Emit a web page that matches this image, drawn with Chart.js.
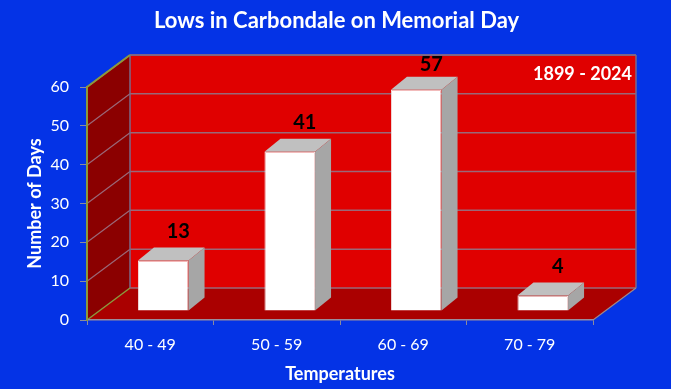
<!DOCTYPE html>
<html>
<head>
<meta charset="utf-8">
<script src="https://cdn.jsdelivr.net/npm/chart.js@4.4.1/dist/chart.umd.min.js"></script>
<style>
  html, body { margin: 0; padding: 0; background: #0433e6; }
  canvas { display: block; }
</style>
</head>
<body>
<canvas id="lowsChart" width="673" height="389"></canvas>
<script>
// Lows in Carbondale on Memorial Day, 1899 - 2024
const categories = ['40 - 49', '50 - 59', '60 - 69', '70 - 79'];
const days = [13, 41, 57, 4];
const yMin = 0;
const yMax = 60;
const yStep = 10;

const FONT = 'Lato, "Open Sans", sans-serif';
const BLUE = '#0433e6';

// depth of the 3D box, and how far back the bars sit inside it
const WALL_DX = 43, WALL_DY = -32;
const BAR_DX = 13, BAR_DY = -9;
const CUBE_DX = 16, CUBE_DY = -13;

function poly(ctx, pts, fill) {
  ctx.beginPath();
  ctx.moveTo(pts[0][0], pts[0][1]);
  for (let i = 1; i < pts.length; i++) ctx.lineTo(pts[i][0], pts[i][1]);
  ctx.closePath();
  ctx.fillStyle = fill;
  ctx.fill();
}

function line(ctx, x1, y1, x2, y2, color, w) {
  ctx.beginPath();
  ctx.moveTo(x1, y1);
  ctx.lineTo(x2, y2);
  ctx.strokeStyle = color;
  ctx.lineWidth = w || 1;
  ctx.stroke();
}

// background, walls, floor and gridlines of the 3D box
const wallsPlugin = {
  id: 'walls3d',
  beforeDraw(chart) {
    const { ctx, chartArea } = chart;
    const y = chart.scales.y;
    const L = chartArea.left, R = chartArea.right;
    const B = y.getPixelForValue(yMin), T = y.getPixelForValue(yMax);

    ctx.save();
    ctx.fillStyle = BLUE;
    ctx.fillRect(0, 0, chart.width, chart.height);
    ctx.fillStyle = '#ffffff';
    ctx.fillRect(chart.width - 2, 0, 2, chart.height);

    // back wall
    poly(ctx, [[L + WALL_DX, T + WALL_DY], [R + WALL_DX, T + WALL_DY], [R + WALL_DX, B + WALL_DY], [L + WALL_DX, B + WALL_DY]], '#e00000');
    // left wall
    poly(ctx, [[L, T], [L + WALL_DX, T + WALL_DY], [L + WALL_DX, B + WALL_DY], [L, B]], '#8b0000');
    // floor
    poly(ctx, [[L, B], [L + WALL_DX, B + WALL_DY], [R + WALL_DX, B + WALL_DY], [R, B]], '#aa0000');

    // gridlines on the back and left walls
    y.ticks.forEach(t => {
      const p = y.getPixelForValue(t.value);
      line(ctx, L + WALL_DX, p + WALL_DY, R + WALL_DX, p + WALL_DY, '#9a6878', 1.5);
      if (t.value !== yMin) line(ctx, L, p, L + WALL_DX, p + WALL_DY, '#9a6878', 1.2);
    });

    // box edges
    line(ctx, L + WALL_DX, T + WALL_DY, R + WALL_DX, T + WALL_DY, '#7a6a8a', 1.5);
    line(ctx, R + WALL_DX, T + WALL_DY, R + WALL_DX, B + WALL_DY, '#7a6a8a', 1.5);
    line(ctx, L + WALL_DX, T + WALL_DY, L + WALL_DX, B + WALL_DY, '#7a6a8a', 1.5);
    line(ctx, L, T, L + WALL_DX, T + WALL_DY, '#8c9a3c', 2);
    line(ctx, L, B, L + WALL_DX, B + WALL_DY, '#8c9a3c', 1.5);
    line(ctx, R, B, R + WALL_DX, B + WALL_DY, '#a08888', 1.2);

    // period note
    ctx.font = 'bold 18px ' + FONT;
    ctx.fillStyle = '#ffffff';
    ctx.textAlign = 'right';
    ctx.textBaseline = 'middle';
    ctx.fillText('1899 - 2024', R + 39, 74);
    ctx.restore();
  },
};

// pushes the bars back into the box and adds top / side faces
const cubesPlugin = {
  id: 'cubes3d',
  beforeDatasetsDraw(chart) {
    chart.ctx.save();
    chart.ctx.translate(BAR_DX, BAR_DY);
  },
  afterDatasetsDraw(chart) {
    const ctx = chart.ctx;
    const bars = chart.getDatasetMeta(0).data;
    bars.forEach(bar => {
      const { x, y, base, width } = bar.getProps(['x', 'y', 'base', 'width'], true);
      const l = x - width / 2, r = x + width / 2;
      poly(ctx, [[l, y], [l + CUBE_DX, y + CUBE_DY], [r + CUBE_DX, y + CUBE_DY], [r, y]], '#c0c0c0');
      poly(ctx, [[r, y], [r + CUBE_DX, y + CUBE_DY], [r + CUBE_DX, base + CUBE_DY], [r, base]], '#a6a6a6');
    });
    ctx.restore();

    // value labels above each cube
    ctx.save();
    ctx.font = 'bold 20px ' + FONT;
    ctx.fillStyle = '#000000';
    ctx.textAlign = 'center';
    ctx.textBaseline = 'middle';
    const minY = chart.chartArea.top - 22;
    bars.forEach((bar, i) => {
      const { x, y } = bar.getProps(['x', 'y'], true);
      ctx.fillText(String(days[i]), x + BAR_DX + 15, Math.max(y + BAR_DY + CUBE_DY - 16, minY));
    });
    ctx.restore();
  },
};

new Chart(document.getElementById('lowsChart'), {
  type: 'bar',
  data: {
    labels: categories,
    datasets: [{
      data: days,
      backgroundColor: '#ffffff',
      borderColor: '#f2dcdc',
      borderWidth: 1,
      barPercentage: 0.4,
      categoryPercentage: 1,
      clip: false,
    }],
  },
  options: {
    responsive: false,
    devicePixelRatio: 1,
    animation: false,
    layout: { padding: 0 },
    plugins: {
      legend: { display: false },
      tooltip: { enabled: false },
      title: {
        display: true,
        text: 'Lows in Carbondale on Memorial Day',
        color: '#ffffff',
        font: { family: FONT, size: 22, weight: 'bold' },
        padding: { top: 8, bottom: 52.6 },
      },
    },
    scales: {
      x: {
        afterFit(scale) { scale.height = 69; },
        grid: { display: true, drawOnChartArea: false, offset: true, tickLength: 5, tickColor: '#8c8c9c' },
        border: { display: true, color: '#9a8c9c', width: 1.5 },
        ticks: { color: '#ffffff', font: { family: FONT, size: 16 }, padding: 10 },
        title: {
          display: true,
          text: 'Temperatures',
          color: '#ffffff',
          font: { family: FONT, size: 18, weight: 'bold' },
          padding: { top: 0, bottom: 4 },
        },
      },
      y: {
        min: yMin,
        max: yMax,
        afterFit(scale) { scale.width = 87; },
        grid: { display: true, drawOnChartArea: false, tickLength: 7, tickColor: '#8c8c9c' },
        border: { display: true, color: '#8c9a3c', width: 2 },
        ticks: { stepSize: yStep, color: '#ffffff', font: { family: FONT, size: 16 }, padding: 11 },
        title: {
          display: true,
          text: 'Number of Days',
          color: '#ffffff',
          font: { family: FONT, size: 18, weight: 'bold' },
          padding: { top: 24, bottom: 0 },
        },
      },
      // empty right-hand axis that only reserves room for the box depth
      yRight: {
        position: 'right',
        min: yMin,
        max: yMax,
        afterFit(scale) { scale.width = 80; },
        grid: { display: false },
        border: { display: false },
        ticks: { display: false },
      },
    },
  },
  plugins: [wallsPlugin, cubesPlugin],
});
</script>
</body>
</html>
